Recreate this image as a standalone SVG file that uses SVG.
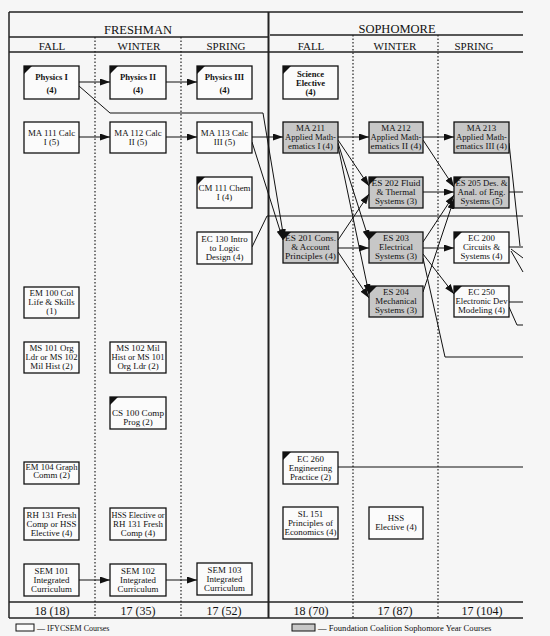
<svg xmlns="http://www.w3.org/2000/svg" width="550" height="636" viewBox="0 0 550 636">
<defs>
<marker id="ah" markerWidth="10" markerHeight="7" refX="10" refY="3.5" orient="auto" markerUnits="userSpaceOnUse"><path d="M0,0 L10,3.5 L0,7 z" fill="#111"/></marker>
<style>
text{font-family:"Liberation Serif","Times New Roman",serif;fill:#111;text-anchor:middle}
.c{font-size:8.9px}
.p{font-size:8.6px;font-weight:bold}
.h1{font-size:12.5px}
.h2{font-size:11px}
.t{font-size:12px}
.lg{font-size:8.6px;text-anchor:start}
.frame{stroke:#222;stroke-width:1.5;fill:none}
.dot{stroke:#222;stroke-width:1.2;stroke-dasharray:1.5 2;fill:none}
.b{fill:#fbfbfb;stroke:#111;stroke-width:1.3}
.g{fill:#c7c7c7;stroke:#111;stroke-width:1.3}
.tri{fill:#111}
.ln{stroke:#111;stroke-width:1;fill:none}
.ar{stroke:#111;stroke-width:1;fill:none;marker-end:url(#ah)}
</style>
</defs>
<rect width="550" height="636" fill="#f6f6f6"/>
<g id="table">
<line class="frame" x1="9" y1="12" x2="523" y2="12"/>
<line class="frame" x1="9" y1="12" x2="9" y2="618"/>
<line class="frame" x1="268.5" y1="12" x2="268.5" y2="618" style="stroke-width:2"/>
<line class="frame" x1="9" y1="37" x2="268" y2="37"/>
<line class="frame" x1="270" y1="35" x2="523" y2="35"/>
<line class="frame" x1="9" y1="52" x2="523" y2="52"/>
<line class="frame" x1="9" y1="602" x2="523" y2="602"/>
<line class="frame" x1="9" y1="618" x2="523" y2="618"/>
<line class="dot" x1="95" y1="37" x2="95" y2="618"/>
<line class="dot" x1="181" y1="37" x2="181" y2="618"/>
<line class="dot" x1="353" y1="35" x2="353" y2="618"/>
<line class="dot" x1="438" y1="35" x2="438" y2="618"/>
<text class="h1" x="138" y="34">FRESHMAN</text>
<text class="h1" x="397" y="33">SOPHOMORE</text>
<text class="h2" x="52" y="50">FALL</text>
<text class="h2" x="139" y="50">WINTER</text>
<text class="h2" x="226" y="50">SPRING</text>
<text class="h2" x="311" y="50">FALL</text>
<text class="h2" x="395" y="50">WINTER</text>
<text class="h2" x="474" y="50">SPRING</text>
<text class="t" x="52" y="615">18 (18)</text>
<text class="t" x="138" y="615">17 (35)</text>
<text class="t" x="224" y="615">17 (52)</text>
<text class="t" x="311" y="615">18 (70)</text>
<text class="t" x="395" y="615">17 (87)</text>
<text class="t" x="482" y="615">17 (104)</text>
</g>
<g id="legend">
<rect x="16" y="624" width="18" height="7" fill="#fbfbfb" stroke="#111" stroke-width="1"/>
<text class="lg" x="37" y="631" style="font-size:8px">— IFYCSEM Courses</text>
<rect x="292" y="624" width="23" height="7" fill="#c7c7c7" stroke="#111" stroke-width="1"/>
<text class="lg" x="318" y="631">— Foundation Coalition Sophomore Year Courses</text>
</g>
<g id="connectors">
<path class="ar" d="M79,82 H110"/>
<path class="ar" d="M166,82 H197"/>
<path class="ar" d="M79,137 H110"/>
<path class="ar" d="M166,137 H197"/>
<path class="ar" d="M79,580 H110"/>
<path class="ar" d="M166,580 H197"/>
<path class="ar" d="M79,86 L110,113 H263 L284,239"/>
<path class="ar" d="M252,142 L283,240"/>
<path class="ar" d="M252,137 H283"/>
<path class="ln" d="M252,247 L267,216 H523"/>
<path class="ar" d="M338,137 H369"/>
<path class="ar" d="M423,137 H454"/>
<path class="ar" d="M338,140 L369,186"/>
<path class="ar" d="M338,143 L369,240"/>
<path class="ar" d="M338,146 L369,294"/>
<path class="ar" d="M338,240 L369,194"/>
<path class="ar" d="M338,248 H369"/>
<path class="ar" d="M338,252 L369,298"/>
<path class="ar" d="M423,192 H454"/>
<path class="ar" d="M423,140 L454,187"/>
<path class="ar" d="M423,242 L454,195"/>
<path class="ar" d="M423,292 L454,199"/>
<path class="ar" d="M423,248 H454"/>
<path class="ar" d="M423,254 L454,294"/>
<path class="ln" d="M423,258 L445,357 H523"/>
<path class="ln" d="M509,192 H523"/>
<path class="ln" d="M509,143 L520,246"/>
<path class="ln" d="M509,247 H523"/>
<path class="ln" d="M511,249 L523,258"/>
<path class="ln" d="M511,251 L523,272"/>
<path class="ln" d="M509,302 H523"/>
<path class="ln" d="M509,307 L517,325 H523"/>
<path class="ln" d="M338,467 H523"/>
</g>
<g id="physics1"><rect class="b" x="24" y="66" width="55" height="33"/><path class="tri" d="M24,66 h8 l-8,8 z"/><text class="p" x="51.5" y="80">Physics I</text><text class="p" x="51.5" y="93">(4)</text></g>
<g id="physics2"><rect class="b" x="110" y="66" width="56" height="33"/><path class="tri" d="M110,66 h8 l-8,8 z"/><text class="p" x="138" y="80">Physics II</text><text class="p" x="138" y="93">(4)</text></g>
<g id="physics3"><rect class="b" x="197" y="66" width="55" height="33"/><path class="tri" d="M197,66 h8 l-8,8 z"/><text class="p" x="224.5" y="80">Physics III</text><text class="p" x="224.5" y="93">(4)</text></g>
<g id="scielec"><rect class="b" x="283" y="66" width="55" height="33"/><path class="tri" d="M283,66 h8 l-8,8 z"/><text class="p" x="310.5" y="77">Science</text><text class="p" x="310.5" y="86">Elective</text><text class="p" x="310.5" y="95">(4)</text></g>
<g id="ma111"><rect class="b" x="24" y="122" width="55" height="31"/><text class="c" x="51.5" y="136">MA 111 Calc</text><text class="c" x="51.5" y="145">I (5)</text></g>
<g id="ma112"><rect class="b" x="110" y="122" width="56" height="31"/><text class="c" x="138" y="136">MA 112 Calc</text><text class="c" x="138" y="145">II (5)</text></g>
<g id="ma113"><rect class="b" x="197" y="122" width="55" height="31"/><text class="c" x="224.5" y="136">MA 113 Calc</text><text class="c" x="224.5" y="145">III (5)</text></g>
<g id="ma211"><rect class="g" x="283" y="122" width="55" height="31"/><text class="c" x="310.5" y="131">MA 211</text><text class="c" x="310.5" y="140" textLength="51" lengthAdjust="spacingAndGlyphs">Applied Math-</text><text class="c" x="310.5" y="149">ematics I (4)</text></g>
<g id="ma212"><rect class="g" x="369" y="122" width="54" height="31"/><text class="c" x="396" y="131">MA 212</text><text class="c" x="396" y="140" textLength="51" lengthAdjust="spacingAndGlyphs">Applied Math-</text><text class="c" x="396" y="149" textLength="51" lengthAdjust="spacingAndGlyphs">ematics II (4)</text></g>
<g id="ma213"><rect class="g" x="454" y="122" width="55" height="31"/><text class="c" x="481.5" y="131">MA 213</text><text class="c" x="481.5" y="140" textLength="51" lengthAdjust="spacingAndGlyphs">Applied Math-</text><text class="c" x="481.5" y="149" textLength="51" lengthAdjust="spacingAndGlyphs">ematics III (4)</text></g>
<g id="cm111"><rect class="b" x="197" y="177" width="55" height="31"/><path class="tri" d="M197,177 h8 l-8,8 z"/><text class="c" x="224.5" y="191" textLength="52" lengthAdjust="spacingAndGlyphs">CM 111 Chem</text><text class="c" x="224.5" y="200">I (4)</text></g>
<g id="es202"><rect class="g" x="369" y="177" width="54" height="31"/><path class="tri" d="M369,177 h8 l-8,8 z"/><text class="c" x="396" y="186" textLength="49" lengthAdjust="spacingAndGlyphs">ES 202 Fluid</text><text class="c" x="396" y="195">&amp; Thermal</text><text class="c" x="396" y="204">Systems (3)</text></g>
<g id="es205"><rect class="g" x="454" y="177" width="55" height="31"/><path class="tri" d="M454,177 h8 l-8,8 z"/><text class="c" x="481.5" y="186" textLength="52" lengthAdjust="spacingAndGlyphs">ES 205 Des. &amp;</text><text class="c" x="481.5" y="195">Anal. of Eng.</text><text class="c" x="481.5" y="204">Systems (5)</text></g>
<g id="ec130"><rect class="b" x="197" y="232" width="55" height="32"/><text class="c" x="224.5" y="242">EC 130 Intro</text><text class="c" x="224.5" y="251">to Logic</text><text class="c" x="224.5" y="260">Design (4)</text></g>
<g id="es201"><rect class="g" x="283" y="232" width="55" height="31"/><path class="tri" d="M283,232 h8 l-8,8 z"/><text class="c" x="310.5" y="241" textLength="51" lengthAdjust="spacingAndGlyphs">ES 201 Cons.</text><text class="c" x="310.5" y="250">&amp; Account</text><text class="c" x="310.5" y="259" textLength="51" lengthAdjust="spacingAndGlyphs">Principles (4)</text></g>
<g id="es203"><rect class="g" x="369" y="232" width="54" height="31"/><path class="tri" d="M369,232 h8 l-8,8 z"/><text class="c" x="396" y="241">ES 203</text><text class="c" x="396" y="250">Electrical</text><text class="c" x="396" y="259">Systems (3)</text></g>
<g id="ec200"><rect class="b" x="454" y="232" width="55" height="31"/><path class="tri" d="M454,232 h8 l-8,8 z"/><text class="c" x="481.5" y="241">EC 200</text><text class="c" x="481.5" y="250">Circuits &amp;</text><text class="c" x="481.5" y="259">Systems (4)</text></g>
<g id="em100"><rect class="b" x="24" y="287" width="55" height="31"/><text class="c" x="51.5" y="296">EM 100 Col</text><text class="c" x="51.5" y="305">Life &amp; Skills</text><text class="c" x="51.5" y="314">(1)</text></g>
<g id="es204"><rect class="g" x="369" y="286" width="54" height="31"/><path class="tri" d="M369,286 h8 l-8,8 z"/><text class="c" x="396" y="295">ES 204</text><text class="c" x="396" y="304">Mechanical</text><text class="c" x="396" y="313">Systems (3)</text></g>
<g id="ec250"><rect class="b" x="454" y="286" width="55" height="31"/><path class="tri" d="M454,286 h8 l-8,8 z"/><text class="c" x="481.5" y="295">EC 250</text><text class="c" x="481.5" y="304" textLength="52" lengthAdjust="spacingAndGlyphs">Electronic Dev</text><text class="c" x="481.5" y="313">Modeling (4)</text></g>
<g id="ms101"><rect class="b" x="24" y="342" width="55" height="31"/><text class="c" x="51.5" y="351">MS 101 Org</text><text class="c" x="51.5" y="360" textLength="52" lengthAdjust="spacingAndGlyphs">Ldr or MS 102</text><text class="c" x="51.5" y="369">Mil Hist (2)</text></g>
<g id="ms102"><rect class="b" x="110" y="342" width="56" height="31"/><text class="c" x="138" y="351">MS 102 Mil</text><text class="c" x="138" y="360" textLength="53" lengthAdjust="spacingAndGlyphs">Hist or MS 101</text><text class="c" x="138" y="369">Org Ldr (2)</text></g>
<g id="cs100"><rect class="b" x="110" y="397" width="56" height="32"/><path class="tri" d="M110,397 h8 l-8,8 z"/><text class="c" x="138" y="416" textLength="52" lengthAdjust="spacingAndGlyphs">CS 100 Comp</text><text class="c" x="138" y="425">Prog (2)</text></g>
<g id="ec260"><rect class="b" x="283" y="452" width="55" height="32"/><path class="tri" d="M283,452 h8 l-8,8 z"/><text class="c" x="310.5" y="462">EC 260</text><text class="c" x="310.5" y="471">Engineering</text><text class="c" x="310.5" y="480">Practice (2)</text></g>
<g id="em104"><rect class="b" x="24" y="462" width="55" height="22"/><text class="c" x="51.5" y="469.5" textLength="52" lengthAdjust="spacingAndGlyphs">EM 104 Graph</text><text class="c" x="51.5" y="478">Comm (2)</text></g>
<g id="rh131"><rect class="b" x="24" y="508" width="55" height="32"/><text class="c" x="51.5" y="518">RH 131 Fresh</text><text class="c" x="51.5" y="527">Comp or HSS</text><text class="c" x="51.5" y="536">Elective (4)</text></g>
<g id="hssrh"><rect class="b" x="110" y="508" width="56" height="32"/><text class="c" x="138" y="518" textLength="53" lengthAdjust="spacingAndGlyphs">HSS Elective or</text><text class="c" x="138" y="527">RH 131 Fresh</text><text class="c" x="138" y="536">Comp (4)</text></g>
<g id="sl151"><rect class="b" x="283" y="507" width="55" height="32"/><text class="c" x="310.5" y="517">SL 151</text><text class="c" x="310.5" y="526">Principles of</text><text class="c" x="310.5" y="535" textLength="52" lengthAdjust="spacingAndGlyphs">Economics (4)</text></g>
<g id="hss"><rect class="b" x="369" y="507" width="54" height="32"/><text class="c" x="396" y="521">HSS</text><text class="c" x="396" y="530">Elective (4)</text></g>
<g id="sem101"><rect class="b" x="24" y="564" width="55" height="32"/><text class="c" x="51.5" y="574">SEM 101</text><text class="c" x="51.5" y="583">Integrated</text><text class="c" x="51.5" y="592">Curriculum</text></g>
<g id="sem102"><rect class="b" x="110" y="564" width="56" height="32"/><text class="c" x="138" y="574">SEM 102</text><text class="c" x="138" y="583">Integrated</text><text class="c" x="138" y="592">Curriculum</text></g>
<g id="sem103"><rect class="b" x="197" y="563" width="55" height="32"/><text class="c" x="224.5" y="573">SEM 103</text><text class="c" x="224.5" y="582">Integrated</text><text class="c" x="224.5" y="591">Curriculum</text></g>
</svg>
